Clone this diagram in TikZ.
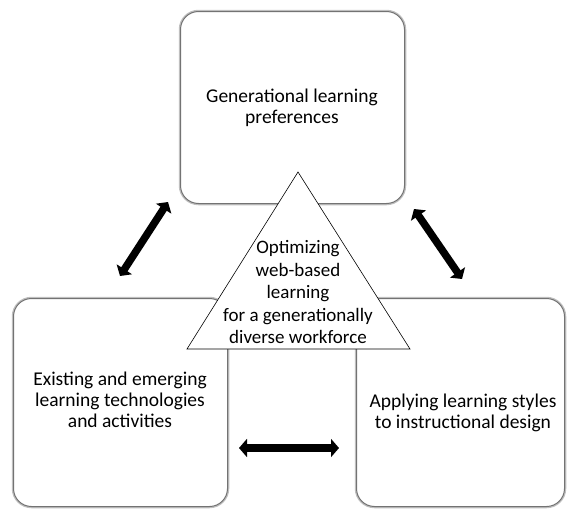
\documentclass[tikz,border=0pt]{standalone}
\usepackage{fontspec}
\setmainfont{Carlito}
\usetikzlibrary{arrows.meta}
\begin{document}
\begin{tikzpicture}[x=1pt,y=-1pt,
  box/.style={draw=black!55, line width=1pt, fill=white, rounded corners=18pt,
    preaction={draw=black!25, line width=3.5pt}},
  lbl/.style={font=\fontsize{19.5}{21}\selectfont, align=center, inner sep=0pt},
  dbl/.style={line width=7.5pt, {Triangle[length=8pt,width=18pt]}-{Triangle[length=8pt,width=18pt]}}]
\useasboundingbox (0,0) rectangle (568,514);
% boxes
\node[box, minimum width=224pt, minimum height=192pt, anchor=north west] (top) at (180,11) {};
\node[box, minimum width=214pt, minimum height=208pt, anchor=north west] (bl) at (13,298) {};
\node[box, minimum width=208pt, minimum height=208pt, anchor=north west] (br) at (356,298) {};
\node[lbl] (toptext) at (292,108) {Generational learning\\preferences};
\node[lbl] (bltext) at (120,400) {Existing and emerging\\learning technologies\\and activities};
\node[lbl] (brtext) at (463,413) {Applying learning styles\\to instructional design};
% triangle
\coordinate (apex) at (298,172);
\coordinate (bleft) at (187,349);
\coordinate (bright) at (410,349);
\draw[black, line width=0.6pt, fill=white] (apex) -- (bleft) -- (bright) -- cycle;
\node[lbl, font=\fontsize{19}{22.5}\selectfont] (tritext) at (298,292) {Optimizing\\web-based\\learning\\for a generationally\\diverse workforce};
% arrows
\coordinate (a1s) at (120,276);
\coordinate (a1e) at (168,202);
\coordinate (a2s) at (414,209);
\coordinate (a2e) at (462,279);
\coordinate (a3s) at (239,448);
\coordinate (a3e) at (339,448);
\draw[dbl] (a1s) -- (a1e);
\draw[dbl] (a2s) -- (a2e);
\draw[dbl] (a3s) -- (a3e);
\end{tikzpicture}
\end{document}
